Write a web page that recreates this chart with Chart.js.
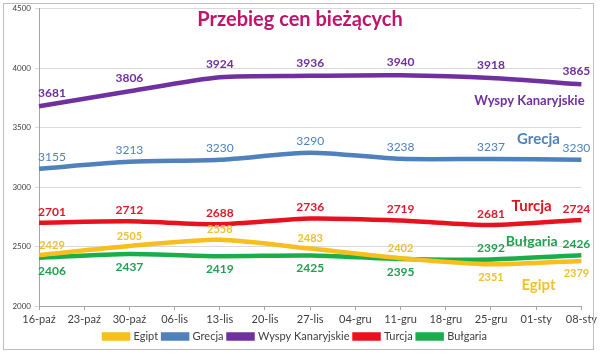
<!DOCTYPE html>
<html>
<head>
<meta charset="utf-8">
<script src="https://cdn.jsdelivr.net/npm/chart.js@4/dist/chart.umd.min.js"></script>
<style>
  body { margin: 0; background: #fff; }
  #wrap { width: 600px; height: 354px; }
</style>
</head>
<body>
<div id="wrap"><canvas id="wykres" width="600" height="354"></canvas></div>
<script>
// daty (co tydzień), ceny tylko co dwa tygodnie
let daty = ["16-paź", "23-paź", "30-paź", "06-lis", "13-lis", "20-lis", "27-lis",
            "04-gru", "11-gru", "18-gru", "25-gru", "01-sty", "08-sty"];

let egipt    = [2429, null, 2505, null, 2558, null, 2483, null, 2402, null, 2351, null, 2379];
let grecja   = [3155, null, 3213, null, 3230, null, 3290, null, 3238, null, 3237, null, 3230];
let wyspy    = [3681, null, 3806, null, 3924, null, 3936, null, 3940, null, 3918, null, 3865];
let turcja   = [2701, null, 2712, null, 2688, null, 2736, null, 2719, null, 2681, null, 2724];
let bulgaria = [2406, null, 2437, null, 2419, null, 2425, null, 2395, null, 2392, null, 2426];

// podpisy serii przy prawej krawędzi (indeks daty, wartość)
let podpisy = [
    { tekst: "Wyspy Kanaryjskie", x: 10.85, y: 3722, kolor: "#7030A0", font: "bold 13px Lato" },
    { tekst: "Grecja",   x: 11.05, y: 3400, kolor: "#4F81BD", font: "bold 15px Lato" },
    { tekst: "Turcja",   x: 10.9,  y: 2840, kolor: "#E3121F", font: "bold 15px Lato" },
    { tekst: "Bułgaria", x: 10.9,  y: 2542, kolor: "#22A050", font: "bold 14px Lato" },
    { tekst: "Egipt",    x: 11.05, y: 2172, kolor: "#F2C12E", font: "bold 15px Lato" }
];

// 🔥 etykiety wartości
const etykiety = {
    id: "etykiety",
    afterDatasetsDraw(chart) {
        let ctx = chart.ctx;
        let area = chart.chartArea;
        ctx.save();
        ctx.textAlign = "center";
        ctx.textBaseline = "middle";
        chart.data.datasets.forEach((ds, i) => {
            let meta = chart.getDatasetMeta(i);
            let k = 0;
            meta.data.forEach((pt, j) => {
                if (ds.data[j] == null) return;
                let gora = ds.pozycje[k++] === "g";
                let x = Math.min(Math.max(pt.x, area.left + 13), area.right - 5);
                let y = gora ? pt.y - ds.odstep : pt.y + 13;
                ctx.font = ds.fontEtykiety;
                ctx.fillStyle = ds.kolorEtykiety;
                ctx.fillText(ds.data[j], x, y);
            });
        });

        let sx = chart.scales.x, sy = chart.scales.y;
        podpisy.forEach(p => {
            ctx.font = p.font;
            ctx.fillStyle = p.kolor;
            ctx.fillText(p.tekst, sx.getPixelForValue(p.x), sy.getPixelForValue(p.y));
        });

        // tytuł
        ctx.font = "bold 20px Lato";
        ctx.fillStyle = "#C0146A";
        ctx.fillText("Przebieg cen bieżących", 300, 20);
        ctx.restore();
    },
    afterDraw(chart) {
        let ctx = chart.ctx;
        ctx.save();
        ctx.strokeStyle = "#BFBFBF";
        ctx.lineWidth = 1;
        ctx.strokeRect(3.5, 3.5, 590, 346);
        ctx.restore();
    }
};

function seria(nazwa, dane, kolor, kolorEt, font, pozycje, odstep) {
    return {
        label: nazwa,
        data: dane,
        borderColor: kolor,
        backgroundColor: kolor,
        borderWidth: 4.5,
        pointRadius: 0,
        tension: 0.25,
        spanGaps: true,
        kolorEtykiety: kolorEt,
        fontEtykiety: font,
        pozycje: pozycje,
        odstep: odstep
    };
}

let wszystkieG = ["g", "g", "g", "g", "g", "g", "g"];

new Chart(document.getElementById("wykres"), {
    type: "line",
    data: {
        labels: daty,
        datasets: [
            seria("Egipt", egipt, "#F7BE1E", "#F0C030", "bold 11px Lato", ["g", "g", "g", "g", "g", "d", "d"], 10),
            seria("Grecja", grecja, "#4F81BD", "#4F81BD", "12px Lato", wszystkieG, 12),
            seria("Wyspy Kanaryjskie", wyspy, "#7030A0", "#7030A0", "bold 12px Lato", wszystkieG, 13),
            seria("Turcja", turcja, "#E8121E", "#D91A2A", "bold 12px Lato", wszystkieG, 11),
            seria("Bułgaria", bulgaria, "#1AAE4A", "#22A050", "bold 12px Lato", ["d", "d", "d", "d", "d", "g", "g"], 11)
        ]
    },
    options: {
        responsive: false,
        animation: false,
        layout: { padding: { top: 8, right: 9, left: 0, bottom: 2 } },
        plugins: {
            title: { display: false },
            tooltip: { enabled: false },
            legend: {
                position: "bottom",
                labels: {
                    boxWidth: 24,
                    boxHeight: 4,
                    padding: 5,
                    color: "#404040",
                    font: { family: "Lato", size: 11 }
                }
            }
        },
        scales: {
            x: {
                offset: false,
                afterFit: s => { s.height = 20; },
                grid: { drawOnChartArea: false, drawTicks: true, tickLength: 4, color: "#A6A6A6" },
                border: { color: "#A6A6A6" },
                ticks: {
                    autoSkip: false,
                    maxRotation: 0,
                    padding: 3,
                    color: "#404040",
                    font: { family: "Lato", size: 11 }
                }
            },
            y: {
                min: 2000,
                max: 4500,
                afterFit: s => { s.width = 39; },
                grid: { color: "#D9D9D9", tickLength: 4 },
                border: { color: "#A6A6A6" },
                ticks: {
                    stepSize: 500,
                    padding: 4,
                    color: "#404040",
                    font: { family: "Lato", size: 8 },
                    callback: v => String(v)
                }
            }
        }
    },
    plugins: [etykiety]
});
</script>
</body>
</html>
